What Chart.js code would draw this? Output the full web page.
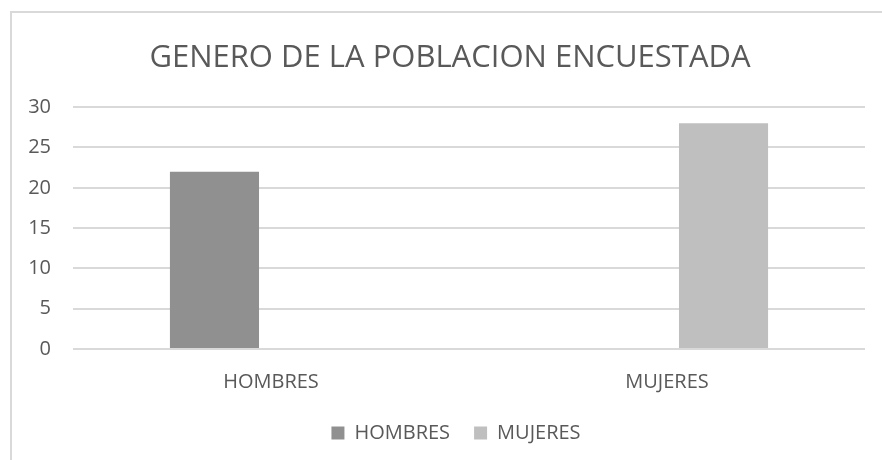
<!DOCTYPE html>
<html>
<head>
<meta charset="utf-8">
<script src="https://cdn.jsdelivr.net/npm/chart.js@4"></script>
<style>
    html, body { margin: 0; padding: 0; background: #fff; overflow: hidden; }
    #marco {
        position: absolute; left: 10px; top: 11px; width: 1000px; height: 600px;
        border-left: 2px solid #d9d9d9; border-top: 2px solid #d9d9d9;
    }
    #caja { position: absolute; left: 0; top: 0; width: 882px; height: 460px; }
</style>
</head>
<body>
<div id="marco"></div>
<div id="caja"><canvas id="chartGenero"></canvas></div>
<script>
const categorias = ["HOMBRES", "MUJERES"];
const hombres = [22, null];
const mujeres = [null, 28];
const ticksY = [0, 5, 10, 15, 20, 25, 30];

const fuente = "'Open Sans', 'DejaVu Sans', sans-serif";
const gris = "#595959";

// el marco del gráfico original es más ancho que la ventana: centrar título y leyenda en él
const centrarBloques = {
    id: "centrarBloques",
    afterLayout(chart) {
        chart.titleBlock.left = 18;
        chart.titleBlock.right = 882;
        chart.legend.left = 30;
        chart.legend.right = 882;
    }
};

const ctx = document.getElementById("chartGenero").getContext("2d");
const chart = new Chart(ctx, {
    type: "bar",
    data: {
        labels: categorias,
        datasets: [
            { label: "HOMBRES", data: hombres, backgroundColor: "#909090" },
            { label: "MUJERES", data: mujeres, backgroundColor: "#bfbfbf" }
        ]
    },
    options: {
        responsive: true,
        maintainAspectRatio: false,
        animation: false,
        categoryPercentage: 0.571,
        barPercentage: 0.788,
        layout: { padding: { left: 0, right: 17, top: 0, bottom: 7 } },
        plugins: {
            title: {
                display: true,
                text: "GENERO DE LA POBLACION ENCUESTADA",
                color: gris,
                font: { family: fuente, size: 31, weight: "normal", lineHeight: 1.2 },
                padding: { top: 40, bottom: 30 }
            },
            legend: {
                position: "bottom",
                labels: {
                    color: gris,
                    boxWidth: 13,
                    boxHeight: 13,
                    padding: 24,
                    font: { family: fuente, size: 20 }
                }
            },
            tooltip: { enabled: false }
        },
        scales: {
            x: {
                afterFit: s => { s.height = 50; },
                grid: { display: false, drawTicks: false },
                border: { display: false },
                ticks: { color: gris, padding: 21, font: { family: fuente, size: 20 } }
            },
            y: {
                min: 0,
                max: 30,
                afterFit: s => { s.width = 73; },
                afterBuildTicks: s => { s.ticks = ticksY.map(v => ({ value: v })); },
                grid: { color: "#d9d9d9", lineWidth: 2, drawTicks: false },
                border: { display: false },
                ticks: { color: gris, padding: 22, font: { family: fuente, size: 20 } }
            }
        }
    },
    plugins: [centrarBloques]
});
</script>
</body>
</html>
